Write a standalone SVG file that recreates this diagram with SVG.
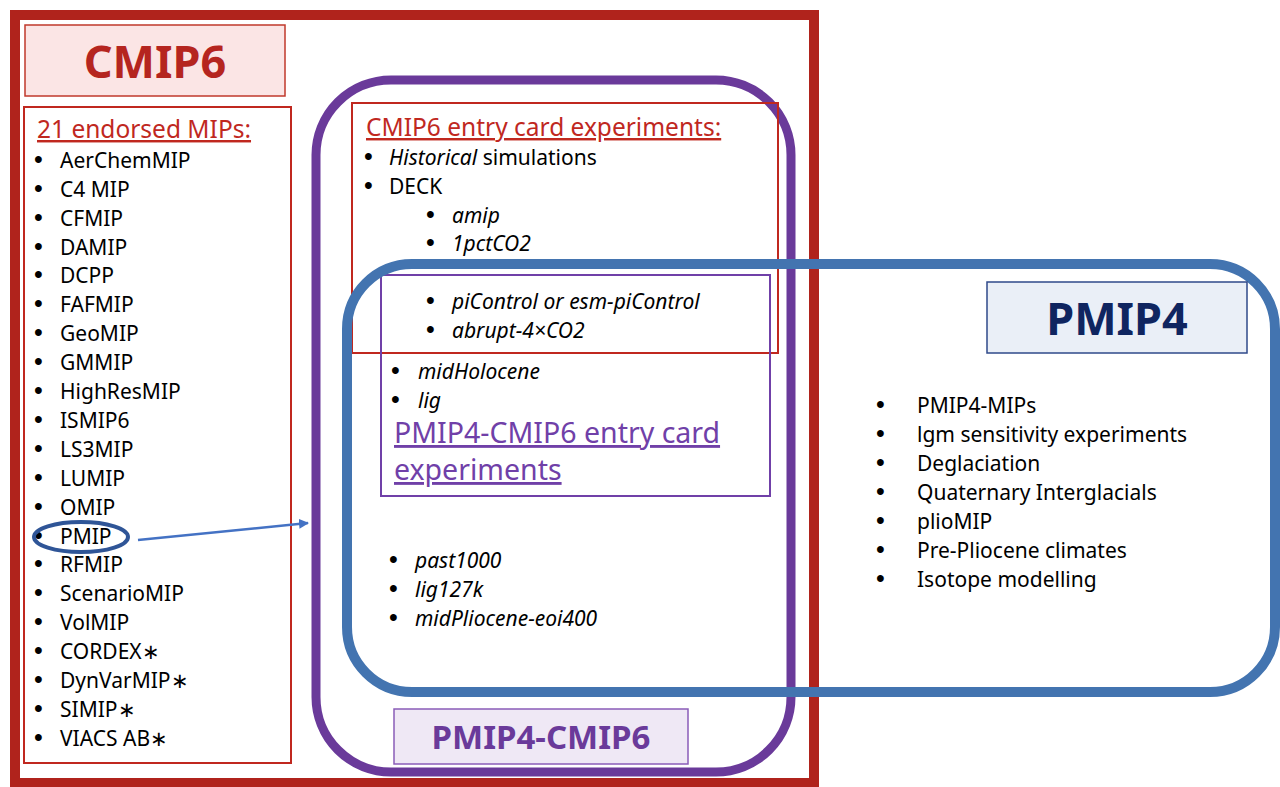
<svg xmlns="http://www.w3.org/2000/svg" width="1280" height="787" viewBox="0 0 1280 787">
<defs>
<style>
text{font-family:"Noto Sans","Open Sans","Liberation Sans",sans-serif;fill:#000}
.li{font-size:21px}
text.b{font-family:"Liberation Sans",Arial,sans-serif;font-size:25px}
.it{font-style:italic}
.red{fill:#c0281f}
.ul{text-decoration:underline}
</style>
<marker id="ah" viewBox="0 0 10 10" refX="9" refY="5" markerWidth="4" markerHeight="4" orient="auto"><path d="M0,0 L10,5 L0,10 z" fill="#4472c4"/></marker>
</defs>
<rect width="1280" height="787" fill="#fff"/>

<g id="cmip6-frame">
<rect x="15" y="15" width="799" height="768" fill="none" stroke="#b0231c" stroke-width="10"/>
</g>

<g id="cmip6-title">
<rect x="25" y="25" width="260" height="71" fill="#fbe5e5" stroke="#c0392b" stroke-width="1.5"/>
<text x="155" y="78" text-anchor="middle" font-size="45" font-weight="bold" style="fill:#b5251f">CMIP6</text>
</g>

<g id="mips-list">
<rect x="24" y="107" width="267" height="656" fill="none" stroke="#c0281f" stroke-width="2"/>
<text x="37" y="138" font-size="24.5" class="red ul">21 endorsed MIPs:</text>
<g class="li">
<text x="34" y="168" class="b">•</text><text x="60" y="168">AerChemMIP</text>
<text x="34" y="197" class="b">•</text><text x="60" y="197">C4 MIP</text>
<text x="34" y="226" class="b">•</text><text x="60" y="226">CFMIP</text>
<text x="34" y="255" class="b">•</text><text x="60" y="255">DAMIP</text>
<text x="34" y="283" class="b">•</text><text x="60" y="283">DCPP</text>
<text x="34" y="312" class="b">•</text><text x="60" y="312">FAFMIP</text>
<text x="34" y="341" class="b">•</text><text x="60" y="341">GeoMIP</text>
<text x="34" y="370" class="b">•</text><text x="60" y="370">GMMIP</text>
<text x="34" y="399" class="b">•</text><text x="60" y="399">HighResMIP</text>
<text x="34" y="428" class="b">•</text><text x="60" y="428">ISMIP6</text>
<text x="34" y="457" class="b">•</text><text x="60" y="457">LS3MIP</text>
<text x="34" y="486" class="b">•</text><text x="60" y="486">LUMIP</text>
<text x="34" y="515" class="b">•</text><text x="60" y="515">OMIP</text>
<text x="34" y="544" class="b">•</text><text x="60" y="544">PMIP</text>
<text x="34" y="572" class="b">•</text><text x="60" y="572">RFMIP</text>
<text x="34" y="601" class="b">•</text><text x="60" y="601">ScenarioMIP</text>
<text x="34" y="630" class="b">•</text><text x="60" y="630">VolMIP</text>
<text x="34" y="659" class="b">•</text><text x="60" y="659">CORDEX∗</text>
<text x="34" y="688" class="b">•</text><text x="60" y="688">DynVarMIP∗</text>
<text x="34" y="717" class="b">•</text><text x="60" y="717">SIMIP∗</text>
<text x="34" y="746" class="b">•</text><text x="60" y="746">VIACS AB∗</text>
</g>
</g>

<g id="pmip4-cmip6-frame">
<rect x="316" y="80" width="475" height="692" rx="75" ry="75" fill="none" stroke="#6a3a9a" stroke-width="9"/>
</g>

<g id="cmip6-entry-card">
<rect x="352" y="103" width="426" height="250" fill="none" stroke="#c0281f" stroke-width="2"/>
<text x="366" y="136" font-size="24.5" class="red ul">CMIP6 entry card experiments:</text>
<g class="li">
<text x="364" y="165" class="b">•</text><text x="389" y="165"><tspan class="it">Historical</tspan> simulations</text>
<text x="364" y="194" class="b">•</text><text x="389" y="194">DECK</text>
<text x="426" y="223" class="b">•</text><text x="452" y="223" class="it">amip</text>
<text x="426" y="251" class="b">•</text><text x="452" y="251" class="it">1pctCO2</text>
<text x="426" y="309" class="b">•</text><text x="452" y="309" class="it">piControl or esm-piControl</text>
<text x="426" y="338" class="b">•</text><text x="452" y="338" class="it">abrupt-4×CO2</text>
</g>
</g>

<g id="pmip4-cmip6-entry-card">
<rect x="381" y="275" width="389" height="221" fill="none" stroke="#7040a8" stroke-width="2"/>
<g class="li">
<text x="391" y="379" class="b">•</text><text x="418" y="379" class="it">midHolocene</text>
<text x="391" y="408" class="b">•</text><text x="418" y="408" class="it">lig</text>
</g>
<text x="394" y="443" font-size="28.5" class="ul" style="fill:#7040a8">PMIP4-CMIP6 entry card</text>
<text x="394" y="480" font-size="28.5" class="ul" style="fill:#7040a8">experiments</text>
</g>

<g id="pmip-tier">
<g class="li">
<text x="389" y="568" class="b">•</text><text x="415" y="568" class="it">past1000</text>
<text x="389" y="597" class="b">•</text><text x="415" y="597" class="it">lig127k</text>
<text x="389" y="626" class="b">•</text><text x="415" y="626" class="it">midPliocene-eoi400</text>
</g>
</g>

<g id="pmip4-cmip6-label">
<rect x="394" y="709" width="294" height="55" fill="#efe8f5" stroke="#8a5cb8" stroke-width="1.5"/>
<text x="541" y="749" text-anchor="middle" font-size="33" font-weight="bold" style="fill:#6a3a9a">PMIP4-CMIP6</text>
</g>

<g id="pmip4-frame">
<rect x="347" y="264" width="928" height="428" rx="65" ry="65" fill="none" stroke="#4374b0" stroke-width="10"/>
</g>

<g id="pmip4-title">
<rect x="987" y="282" width="260" height="71" fill="#eaeff7" stroke="#2f4a8a" stroke-width="1.5"/>
<text x="1117" y="335" text-anchor="middle" font-size="45" font-weight="bold" style="fill:#0f2560">PMIP4</text>
</g>

<g id="pmip4-list">
<g class="li">
<text x="876" y="413" class="b">•</text><text x="917" y="413">PMIP4-MIPs</text>
<text x="876" y="442" class="b">•</text><text x="917" y="442">lgm sensitivity experiments</text>
<text x="876" y="471" class="b">•</text><text x="917" y="471">Deglaciation</text>
<text x="876" y="500" class="b">•</text><text x="917" y="500">Quaternary Interglacials</text>
<text x="876" y="529" class="b">•</text><text x="917" y="529">plioMIP</text>
<text x="876" y="558" class="b">•</text><text x="917" y="558">Pre-Pliocene climates</text>
<text x="876" y="587" class="b">•</text><text x="917" y="587">Isotope modelling</text>
</g>
</g>

<g id="connectors">
<ellipse cx="81" cy="537" rx="47" ry="15" fill="none" stroke="#2f5597" stroke-width="4"/>
<line x1="138" y1="540" x2="308" y2="523" stroke="#4472c4" stroke-width="2.5" marker-end="url(#ah)"/>
</g>
</svg>
